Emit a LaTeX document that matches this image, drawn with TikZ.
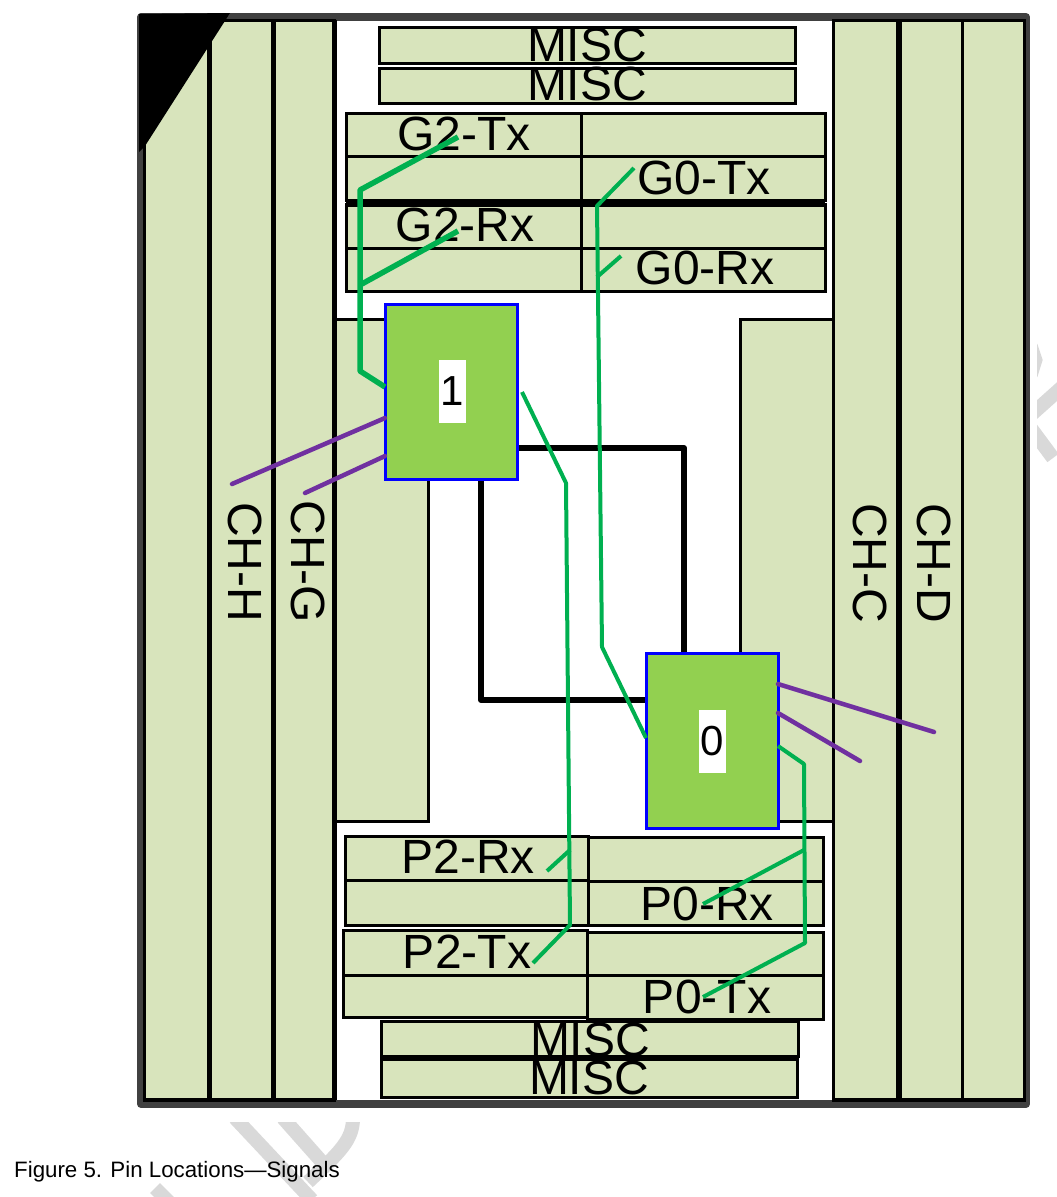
\documentclass[tikz,border=0pt]{standalone}
\usepackage{fontspec}
\setmainfont{Liberation Sans}
\definecolor{pingreen}{HTML}{D8E4BC}
\definecolor{chipgreen}{HTML}{92D050}
\definecolor{sigpurple}{HTML}{7030A0}
\definecolor{siggreen}{HTML}{00B050}
\definecolor{framegray}{HTML}{404040}
\definecolor{markgray}{HTML}{D9D9D9}
\tikzset{
	pinbox/.style 2 args={rectangle, draw=black, fill=pingreen, line width=3pt, inner sep=0pt, outer sep=0pt, minimum width=#1pt, minimum height=#2pt},
	pinlabel/.style={inner sep=0pt, font=\fontsize{48}{50}\selectfont},
	chip/.style={rectangle, draw=blue, fill=chipgreen, line width=3pt, inner sep=0pt, outer sep=0pt, minimum width=132pt, minimum height=175pt},
	chiplabel/.style={fill=white, inner sep=0pt, text width=27pt, minimum height=63pt, align=center, font=\fontsize{42}{44}\selectfont},
	hsio/.style={draw=siggreen, line width=4pt, line join=round},
	hsiothick/.style={draw=siggreen, line width=5.5pt, line join=round},
	memsig/.style={draw=sigpurple, line width=4.5pt, line cap=round},
	upi/.style={draw=black, line width=6pt, line cap=round, line join=round},
	markstroke/.style={draw=markgray, line width=14pt}
}
\begin{document}
\begin{tikzpicture}[x=1pt, y=-1pt]
	\useasboundingbox (0,0) rectangle (1057,1197);

	% background mark
	\begin{scope}
		\clip (1037,330) rectangle (1057,480);
		\draw[markstroke] (1032,414) -- (1070,380);
		\draw[markstroke] (1030,427) -- (1053,458);
		\draw[markstroke, line width=7pt] (1034,345) -- (1039,360) -- (1034,376);
	\end{scope}
	\begin{scope}
		\clip (130,1122) rectangle (380,1197);
		\draw[markstroke] (235,1118) -- (312,1200);
		\draw[markstroke] (283,1118) -- (322,1162);
		\draw[markstroke] (353,1118) .. controls (353,1140) and (340,1152) .. (308,1182);
		\draw[markstroke] (155,1188) -- (172,1205);
	\end{scope}

	% frame and corner mark
	\draw[draw=framegray, line width=8pt, line join=round] (141,17) rectangle (1026,1104);

	% channel columns
	\draw (176.5,560) node[pinbox={65}{1080}] (colleft) {}
		(241,560) node[pinbox={64}{1080}] (colh) {}
		(303.5,560) node[pinbox={61}{1080}] (colg) {}
		(381,570) node[pinbox={94}{502}] (blockleft) {}
		(786.5,570) node[pinbox={93}{502}] (blockright) {}
		(866,560) node[pinbox={65}{1080}] (colc) {}
		(930,560) node[pinbox={64}{1080}] (cold) {}
		(993,560) node[pinbox={62}{1080}] (colright) {};
	\draw[black, line width=5pt] (colh.north west) -- (colh.south west);
	\draw[black, line width=5pt] (colh.north east) -- (colh.south east);
	\draw[black, line width=5pt] (colg.north east) -- (colg.south east);
	\draw[black, line width=6pt] (colc.north east) -- (colc.south east);
	\draw[black, line width=4pt] (colleft.south west) -- (colg.south east);
	\draw[black, line width=4pt] (colc.south west) -- (colright.south east);
	\fill[black] (139,14) -- (230,13) -- (145,146) -- (139,152) -- cycle;

	% misc rows
	\draw (587,45) node[pinbox={416}{36}] (misca) {}
		(587,85.5) node[pinbox={416}{35}] (miscb) {}
		(589.5,1038.5) node[pinbox={417}{35}] (miscc) {}
		(589,1078) node[pinbox={416}{38}] (miscd) {};

	% g rows
	\draw (463.5,134.5) node[pinbox={235}{43}] (gtwotxa) {}
		(463.5,178) node[pinbox={235}{44}] (gtwotxb) {}
		(703,134.5) node[pinbox={244}{43}] (gzerotxa) {}
		(703,178) node[pinbox={244}{44}] (gzerotxb) {}
		(463.5,226) node[pinbox={235}{44}] (gtworxa) {}
		(463.5,269.5) node[pinbox={235}{43}] (gtworxb) {}
		(703,226) node[pinbox={244}{44}] (gzerorxa) {}
		(703,269.5) node[pinbox={244}{43}] (gzerorxb) {};
	\draw[black, line width=5pt] (gtworxa.north west) -- (gzerorxa.north east);

	% p rows
	\draw (466.5,858) node[pinbox={243}{44}] (ptworxa) {}
		(466.5,902.5) node[pinbox={243}{45}] (ptworxb) {}
		(705.5,859) node[pinbox={235}{44}] (pzerorxa) {}
		(705.5,903) node[pinbox={235}{44}] (pzerorxb) {}
		(465,952.5) node[pinbox={244}{45}] (ptwotxa) {}
		(465,996) node[pinbox={244}{42}] (ptwotxb) {}
		(705,953.5) node[pinbox={236}{43}] (pzerotxa) {}
		(705,997) node[pinbox={236}{44}] (pzerotxb) {};

	% labels
	\draw (587,45) node[pinlabel] (lmisca) {MISC}
		(587,84) node[pinlabel] (lmiscb) {MISC}
		(590,1040) node[pinlabel] (lmiscc) {MISC}
		(589,1078) node[pinlabel] (lmiscd) {MISC}
		(464,134) node[pinlabel] (lgtwotx) {G2-Tx}
		(704,178) node[pinlabel] (lgzerotx) {G0-Tx}
		(465,225) node[pinlabel] (lgtworx) {G2-Rx}
		(705,268) node[pinlabel] (lgzerorx) {G0-Rx}
		(468,857) node[pinlabel] (lptworx) {P2-Rx}
		(707,904) node[pinlabel] (lpzerorx) {P0-Rx}
		(467,952) node[pinlabel] (lptwotx) {P2-Tx}
		(707,997) node[pinlabel] (lpzerotx) {P0-Tx}
		(245,562) node[pinlabel, rotate=-90] (lchh) {CH-H}
		(308,562) node[pinlabel, rotate=-90] (lchg) {CH-G}
		(870,563) node[pinlabel, rotate=-90] (lchc) {CH-C}
		(934,563) node[pinlabel, rotate=-90] (lchd) {CH-D};

	% links between the sockets
	\draw[upi] (517,448) -- (684,448) -- (684,654);
	\draw[upi] (481,480) -- (481,700) -- (646,700);

	% sockets
	\draw (451,392) node[chip] (chipone) {}
		(712,741) node[chip] (chipzero) {};
	\node[chiplabel] (lchipone) at (452,391) {1};
	\node[chiplabel] (lchipzero) at (712,741) {0};

	% free line ends
	\coordinate (endh) at (232,484);
	\coordinate (endg) at (305,493);
	\coordinate (endd) at (934,732);
	\coordinate (endc) at (860,761);
	\coordinate (endgtwotx) at (458,137);
	\coordinate (endgtworx) at (458,231);
	\coordinate (endgzerotx) at (634,168);
	\coordinate (endgzerorx) at (621,256);
	\coordinate (endptworx) at (547,871);
	\coordinate (endptwotx) at (533,963);
	\coordinate (endpzerorx) at (703,904);
	\coordinate (endpzerotx) at (703,997);

	% memory channels
	\draw[memsig] ([yshift=-26pt]chipone.west) -- (endh);
	\draw[memsig] ([yshift=-64pt]chipone.west) -- (endg);
	\draw[memsig] ([yshift=57pt]chipzero.east) -- (endd);
	\draw[memsig] ([yshift=28pt]chipzero.east) -- (endc);

	% high speed signals
	\draw[hsiothick] ([yshift=5pt]chipone.west) -- (360,371) -- (360,190) -- (endgtwotx);
	\draw[hsiothick] (360,285) -- (endgtworx);
	\draw[hsio] ([yshift=3pt]chipzero.west) -- (602,647) -- (597,206) -- (endgzerotx);
	\draw[hsio] (597,277) -- (endgzerorx);
	\draw[hsio] ([xshift=5pt]chipone.east) -- (566,483) -- (570,925) -- (endptwotx);
	\draw[hsio] (570,850) -- (endptworx);
	\draw[hsio] ([yshift=-5pt]chipzero.east) -- (804,764) -- (805,943) -- (endpzerotx);
	\draw[hsio] (804,850) -- (endpzerorx);

	% caption
	\node[anchor=base west, inner sep=0pt, font=\fontsize{22.3}{24}\selectfont] (caption) at (14,1177) {Figure 5. Pin Locations---Signals};
\end{tikzpicture}
\end{document}
